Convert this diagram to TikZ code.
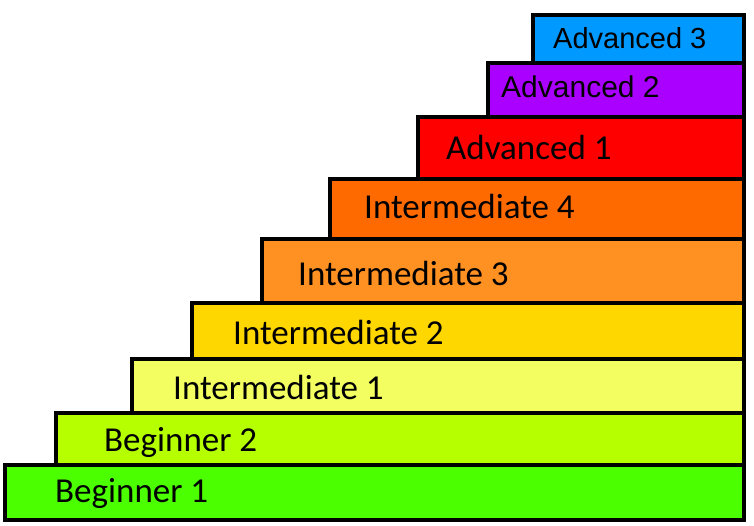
\documentclass[tikz,border=0pt]{standalone}
\usepackage{fontspec}
\setmainfont{Carlito}
\newfontfamily\arialf{Liberation Sans}
\definecolor{cB1}{HTML}{4CFF00}
\definecolor{cB2}{HTML}{B5FF00}
\definecolor{cI1}{HTML}{F3FF60}
\definecolor{cI2}{HTML}{FFD700}
\definecolor{cI3}{HTML}{FF9022}
\definecolor{cI4}{HTML}{FF6A00}
\definecolor{cA1}{HTML}{FF0000}
\definecolor{cA2}{HTML}{AA00FF}
\definecolor{cA3}{HTML}{0099FF}
\begin{document}
\begin{tikzpicture}[x=1pt,y=-1pt,
  stepbox/.style={draw=black,line width=4pt,line join=miter},
  lbl/.style={anchor=base west,inner sep=0pt,font=\fontsize{35}{40}\selectfont},
  lbla/.style={anchor=base west,inner sep=0pt,font=\arialf\fontsize{30}{36}\selectfont}]
\useasboundingbox (0,0) rectangle (754,526);
\draw[stepbox,fill=cB1] (5,465) rectangle (744,520);
\draw[stepbox,fill=cB2] (56,413) rectangle (744,465);
\draw[stepbox,fill=cI1] (132,359) rectangle (744,413);
\draw[stepbox,fill=cI2] (192,303) rectangle (744,359);
\draw[stepbox,fill=cI3] (262,239) rectangle (744,303);
\draw[stepbox,fill=cI4] (330,179) rectangle (744,239);
\draw[stepbox,fill=cA1] (418,117) rectangle (744,179);
\draw[stepbox,fill=cA2] (488,63) rectangle (744,117);
\draw[stepbox,fill=cA3] (533,15) rectangle (744,63);
\node[lbl] (b1) at (55,502) {Beginner 1};
\node[lbl] (b2) at (104,451) {Beginner 2};
\node[lbl] (i1) at (173,399) {Intermediate 1};
\node[lbl] (i2) at (233,344) {Intermediate 2};
\node[lbl] (i3) at (298,286) {Intermediate 3};
\node[lbl] (i4) at (364,219) {Intermediate 4};
\node[lbl] (a1) at (446,160) {Advanced 1};
\node[lbla] (a2) at (501,98) {Advanced 2};
\node[lbla,font=\arialf\fontsize{29}{34}\selectfont] (a3) at (553,49) {Advanced 3};
\end{tikzpicture}
\end{document}
